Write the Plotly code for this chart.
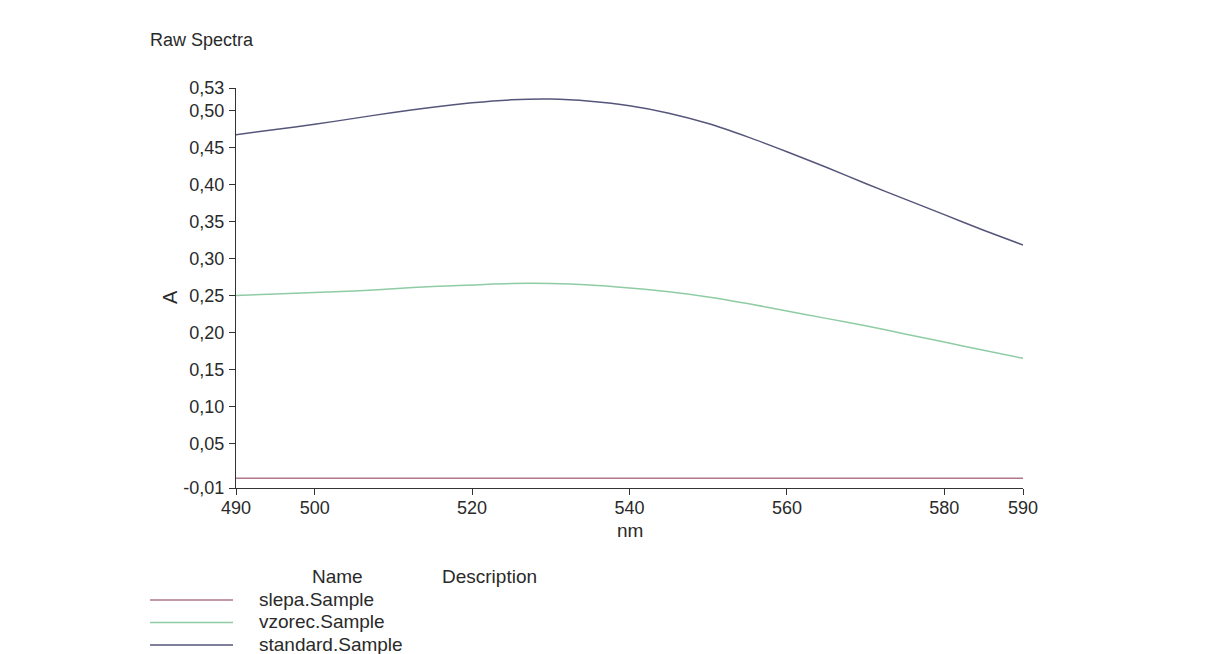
import plotly.graph_objects as go

# ---- data ----
wavelength_nm = [490, 495, 500, 505, 510, 515, 520, 525, 530, 535, 540,
                 545, 550, 555, 560, 565, 570, 575, 580, 585, 590]

slepa = [0.003, 0.003, 0.003, 0.003, 0.003, 0.003, 0.003, 0.003, 0.003, 0.003, 0.003,
         0.003, 0.003, 0.003, 0.003, 0.003, 0.003, 0.003, 0.003, 0.003, 0.003]
vzorec = [0.250, 0.252, 0.254, 0.256, 0.259, 0.262, 0.264, 0.266, 0.266, 0.264, 0.260,
          0.255, 0.248, 0.239, 0.229, 0.219, 0.209, 0.198, 0.187, 0.176, 0.165]
standard = [0.467, 0.474, 0.481, 0.489, 0.497, 0.504, 0.510, 0.514, 0.515, 0.512, 0.506,
            0.496, 0.482, 0.464, 0.444, 0.423, 0.401, 0.380, 0.359, 0.338, 0.318]

series_names = ["slepa.Sample", "vzorec.Sample", "standard.Sample"]
series_values = [slepa, vzorec, standard]
series_colors = ["#b07888", "#8fcca4", "#55567a"]

x_tick_vals = [490, 500, 520, 540, 560, 580, 590]
x_tick_text = ["490", "500", "520", "540", "560", "580", "590"]
y_tick_vals = [-0.01, 0.05, 0.10, 0.15, 0.20, 0.25, 0.30, 0.35, 0.40, 0.45, 0.50, 0.53]
y_tick_text = ["-0,01", "0,05", "0,10", "0,15", "0,20", "0,25", "0,30", "0,35",
               "0,40", "0,45", "0,50", "0,53"]

FONT = "Arial, 'Liberation Sans', sans-serif"
TXT = "#2a2a2a"

W, H = 1221, 654
L, R, T, B = 236, 198, 88, 166
PW, PH = W - L - R, H - T - B


def px(x):
    return (x - L) / PW


def py(y):
    return (H - B - y) / PH


fig = go.Figure()
for name, vals, col in zip(series_names, series_values, series_colors):
    fig.add_trace(go.Scatter(x=wavelength_nm, y=vals, mode="lines", name=name,
                             line=dict(color=col, width=1.5, shape="spline", smoothing=0.8),
                             showlegend=False, hoverinfo="x+y+name"))

fig.update_layout(
    width=W, height=H,
    margin=dict(l=L, r=R, t=T, b=B, pad=0),
    paper_bgcolor="white", plot_bgcolor="white",
    font=dict(family=FONT, size=18, color=TXT),
    showlegend=False,
)
fig.update_xaxes(range=[490, 590], tickvals=x_tick_vals, ticktext=x_tick_text,
                 showgrid=False, zeroline=False, showline=True, linecolor="#333",
                 linewidth=1.3, ticks="outside", ticklen=6, tickcolor="#333",
                 ticklabelstandoff=-3,
                 tickfont=dict(size=18, color=TXT))
fig.update_yaxes(range=[-0.01, 0.53], tickvals=y_tick_vals, ticktext=y_tick_text,
                 showgrid=False, zeroline=False, showline=True, linecolor="#333",
                 linewidth=1.3, ticks="outside", ticklen=6, tickcolor="#333",
                 ticklabelstandoff=1,
                 tickfont=dict(size=18, color=TXT))

ann = []
ann.append(dict(text="Raw Spectra", x=px(148), y=py(40), xref="paper", yref="paper",
                xanchor="left", yanchor="middle", showarrow=False,
                font=dict(size=18, color=TXT)))
ann.append(dict(text="A", x=px(170), y=py(297), xref="paper", yref="paper",
                xanchor="center", yanchor="middle", showarrow=False, textangle=-90,
                font=dict(size=20, color=TXT)))
ann.append(dict(text="nm", x=px(630), y=py(530), xref="paper", yref="paper",
                xanchor="center", yanchor="middle", showarrow=False,
                font=dict(size=19, color=TXT)))
ann.append(dict(text="Name", x=px(337), y=py(576), xref="paper", yref="paper",
                xanchor="center", yanchor="middle", showarrow=False,
                font=dict(size=19, color=TXT)))
ann.append(dict(text="Description", x=px(440), y=py(576), xref="paper", yref="paper",
                xanchor="left", yanchor="middle", showarrow=False,
                font=dict(size=19, color=TXT)))

shapes = []
for i, (name, col) in enumerate(zip(series_names, series_colors)):
    yy = 599 + i * 22.5
    shapes.append(dict(type="line", xref="paper", yref="paper",
                       x0=px(150), x1=px(233), y0=py(yy + 1), y1=py(yy + 1),
                       line=dict(color=col, width=1.5)))
    ann.append(dict(text=name, x=px(257), y=py(yy), xref="paper", yref="paper",
                    xanchor="left", yanchor="middle", showarrow=False,
                    font=dict(size=19, color=TXT)))

fig.update_layout(annotations=ann, shapes=shapes)
fig.write_html("out.html")
